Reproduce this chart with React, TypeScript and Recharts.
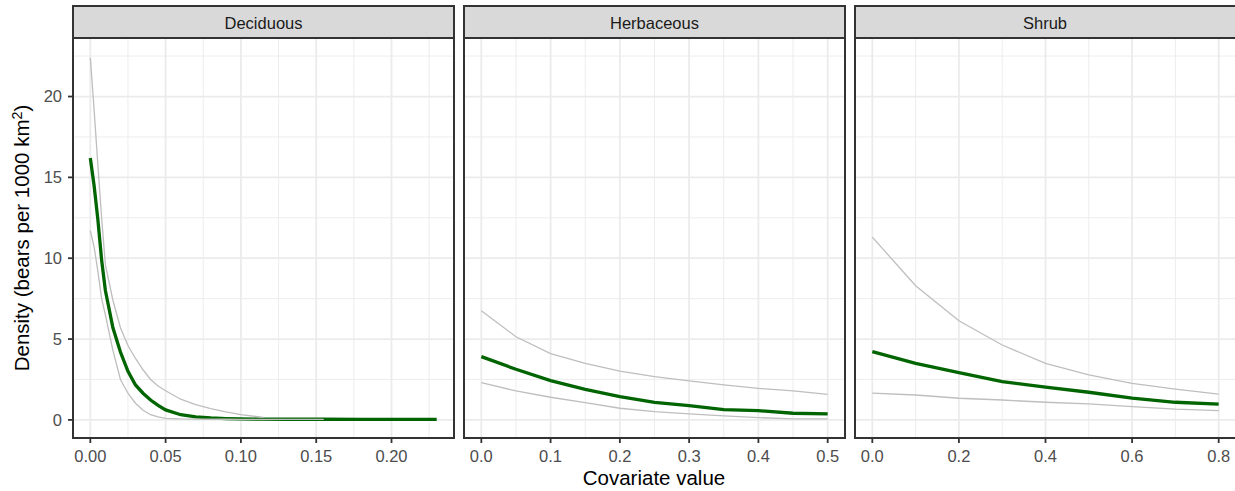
import { LineChart, Line, XAxis, YAxis, CartesianGrid } from 'recharts';

const FONT = '"Liberation Sans", Arial, sans-serif';

// Deciduous
const decidX = [0, 0.0025, 0.005, 0.0075, 0.01, 0.015, 0.02, 0.025, 0.03, 0.035, 0.04, 0.045, 0.05, 0.06, 0.07, 0.08, 0.09, 0.1, 0.115, 0.13, 0.155, 0.18, 0.205, 0.23];
const decidMean = [16.2, 14.5, 12.4, 9.9, 8.0, 5.7, 4.2, 3.0, 2.16, 1.65, 1.23, 0.9, 0.62, 0.32, 0.19, 0.12, 0.08, 0.06, 0.05, 0.04, 0.04, 0.03, 0.03, 0.03];
const decidUpper = [22.4, 19.2, 15.8, 12.5, 9.6, 7.4, 5.7, 4.6, 3.8, 3.1, 2.5, 2.1, 1.8, 1.28, 0.95, 0.7, 0.5, 0.33, 0.15];
const decidLower = [11.7, 10.7, 9.2, 7.5, 6.5, 4.3, 2.5, 1.65, 1.03, 0.6, 0.32, 0.18, 0.1, 0.06, 0.05, 0.04, 0.04, 0.03, 0.03, 0.03, 0.03];

// Herbaceous
const herbX = [0, 0.05, 0.1, 0.15, 0.2, 0.25, 0.3, 0.35, 0.4, 0.45, 0.5];
const herbMean = [3.91, 3.13, 2.43, 1.89, 1.44, 1.09, 0.88, 0.64, 0.57, 0.41, 0.37];
const herbUpper = [6.75, 5.14, 4.1, 3.5, 3.02, 2.67, 2.41, 2.16, 1.95, 1.79, 1.58];
const herbLower = [2.3, 1.79, 1.4, 1.07, 0.72, 0.51, 0.37, 0.25, 0.14, 0.06, 0.06];

// Shrub
const shrubX = [0, 0.1, 0.2, 0.3, 0.4, 0.5, 0.6, 0.7, 0.8];
const shrubMean = [4.22, 3.5, 2.92, 2.37, 2.02, 1.71, 1.34, 1.09, 0.97];
const shrubUpper = [11.3, 8.3, 6.13, 4.63, 3.5, 2.78, 2.26, 1.9, 1.6];
const shrubLower = [1.65, 1.54, 1.34, 1.23, 1.09, 0.99, 0.82, 0.66, 0.57];

const yTicks = [0, 5, 10, 15, 20];
const yMinor = [2.5, 7.5, 12.5, 17.5, 22.5];
const yDomain: [number, number] = [-1.12, 23.62];

const rows = (xs: number[], mean: number[], lower: number[], upper: number[]) =>
  xs.map((x, i) => ({ x, mean: mean[i], lower: lower[i], upper: upper[i] }));

const PLOT_TOP = 38;
const PLOT_W = 381;
const PLOT_H = 400;
const Y_AXIS_W = 40;
const X_AXIS_H = 40;

interface PanelProps {
  title: string;
  data: { x: number; mean?: number; lower?: number; upper?: number }[];
  domain: [number, number];
  ticks: number[];
  minor: number[];
  digits: number;
  left: number;
  showY?: boolean;
}

function Panel({ title, data, domain, ticks, minor, digits, left, showY }: PanelProps) {
  const chartLeft = showY ? left - Y_AXIS_W : left;
  const chartW = showY ? PLOT_W + Y_AXIS_W : PLOT_W;
  const vMinor = ({ offset }: any) =>
    minor.map((v) => offset.left + ((v - domain[0]) / (domain[1] - domain[0])) * offset.width);
  const hMinor = ({ offset }: any) =>
    yMinor.map((v) => offset.top + ((yDomain[1] - v) / (yDomain[1] - yDomain[0])) * offset.height);
  return (
    <>
      <div
        style={{
          position: 'absolute', left: left - 1, top: 5, width: PLOT_W + 2, height: 34,
          boxSizing: 'border-box', border: '2px solid #333', background: '#D9D9D9',
          display: 'flex', alignItems: 'center', justifyContent: 'center',
          fontSize: 16.5, color: '#1A1A1A', paddingTop: 3,
        }}
      >
        {title}
      </div>
      <div style={{ position: 'absolute', left: chartLeft, top: PLOT_TOP }}>
        <LineChart
          width={chartW}
          height={PLOT_H + X_AXIS_H}
          data={data}
          margin={{ top: 0, right: 0, bottom: 0, left: 0 }}
        >
          <CartesianGrid
            stroke="#EBEBEB"
            strokeWidth={0.9}
            verticalCoordinatesGenerator={vMinor}
            horizontalCoordinatesGenerator={hMinor}
          />
          <CartesianGrid stroke="#EBEBEB" strokeWidth={1.8} />
          <XAxis
            dataKey="x"
            type="number"
            domain={domain}
            ticks={ticks}
            allowDataOverflow
            height={X_AXIS_H}
            axisLine={false}
            tickLine={{ stroke: '#333', strokeWidth: 1.8 }}
            tickSize={5}
            tickMargin={7}
            interval={0}
            tickFormatter={(v: number) => v.toFixed(digits)}
            tick={{ fontSize: 16.5, fill: '#4D4D4D', fontFamily: FONT }}
          />
          <YAxis
            type="number"
            domain={yDomain}
            ticks={yTicks}
            allowDataOverflow
            hide={!showY}
            width={Y_AXIS_W}
            axisLine={false}
            tickLine={{ stroke: '#333', strokeWidth: 1.8 }}
            tickSize={5}
            tickMargin={6}
            interval={0}
            tick={{ fontSize: 16.5, fill: '#4D4D4D', fontFamily: FONT }}
          />
          <Line dataKey="mean" type="linear" stroke="#006400" strokeWidth={3.3} dot={false} isAnimationActive={false} />
          <Line dataKey="lower" type="linear" stroke="#BEBEBE" strokeWidth={1.3} dot={false} isAnimationActive={false} />
          <Line dataKey="upper" type="linear" stroke="#BEBEBE" strokeWidth={1.3} dot={false} isAnimationActive={false} />
        </LineChart>
      </div>
      <div
        style={{
          position: 'absolute', left: left - 1, top: PLOT_TOP - 1, width: PLOT_W + 2, height: PLOT_H + 2,
          boxSizing: 'border-box', border: '2px solid #333', pointerEvents: 'none',
        }}
      />
    </>
  );
}

export default function App() {
  return (
    <div
      style={{
        position: 'absolute', left: 0, top: 0, width: 1235, height: 491,
        background: '#fff', fontFamily: FONT, overflow: 'hidden',
      }}
    >
      <Panel title="Deciduous" data={rows(decidX, decidMean, decidLower, decidUpper)}
        domain={[-0.0115, 0.2415]} ticks={[0, 0.05, 0.1, 0.15, 0.2]}
        minor={[0.025, 0.075, 0.125, 0.175, 0.225]} digits={2} left={73} showY />
      <Panel title="Herbaceous" data={rows(herbX, herbMean, herbLower, herbUpper)}
        domain={[-0.025, 0.525]} ticks={[0, 0.1, 0.2, 0.3, 0.4, 0.5]}
        minor={[0.05, 0.15, 0.25, 0.35, 0.45]} digits={1} left={464} />
      <Panel title="Shrub" data={rows(shrubX, shrubMean, shrubLower, shrubUpper)}
        domain={[-0.04, 0.84]} ticks={[0, 0.2, 0.4, 0.6, 0.8]}
        minor={[0.1, 0.3, 0.5, 0.7]} digits={1} left={854.5} />
      <div
        style={{
          position: 'absolute', left: 22, top: PLOT_TOP + PLOT_H / 2, width: 0, height: 0,
        }}
      >
        <div
          style={{
            position: 'absolute', transform: 'translate(-50%, -50%) rotate(-90deg)',
            whiteSpace: 'nowrap', fontSize: 20.5, color: '#000', lineHeight: 1,
          }}
        >
          Density (bears per 1000 km<sup style={{ fontSize: '0.7em', verticalAlign: '0.5em', lineHeight: 0 }}>2</sup>)
        </div>
      </div>
      <div
        style={{
          position: 'absolute', left: 73, width: 1162, top: 466, textAlign: 'center',
          fontSize: 20.5, color: '#000', lineHeight: 1.2,
        }}
      >
        Covariate value
      </div>
    </div>
  );
}
